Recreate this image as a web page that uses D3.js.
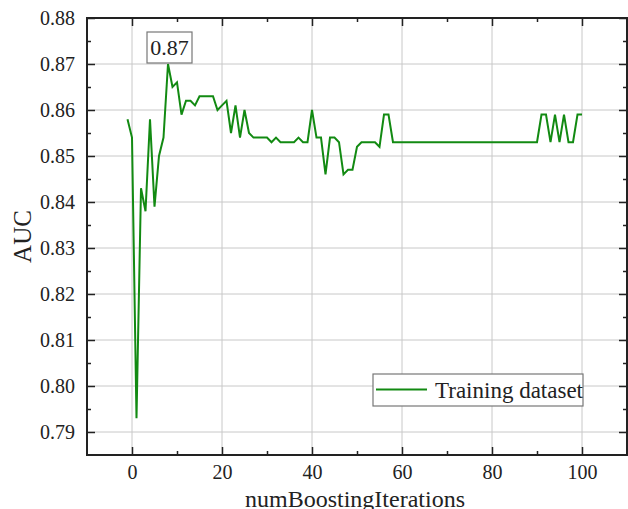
<!DOCTYPE html>
<html>
<head>
<meta charset="utf-8">
<script src="https://cdn.jsdelivr.net/npm/d3@7"></script>
<style>
  body { margin: 0; background: #fff; }
  svg text { font-family: "Liberation Serif", "Times New Roman", "DejaVu Serif", serif !important; }
</style>
</head>
<body>
<svg id="chart" width="628" height="509"></svg>
<script>
// iterations -1 .. 100
const iterations = d3.range(-1, 101);
const auc = [
  0.858, 0.854, 0.793, 0.843, 0.838, 0.858, 0.839, 0.850, 0.854, 0.870,
  0.865, 0.866, 0.859, 0.862, 0.862, 0.861, 0.863, 0.863, 0.863, 0.863,
  0.860, 0.861, 0.862, 0.855, 0.861, 0.854, 0.860, 0.855, 0.854, 0.854,
  0.854, 0.854, 0.853, 0.854, 0.853, 0.853, 0.853, 0.853, 0.854, 0.853,
  0.853, 0.860, 0.854, 0.854, 0.846, 0.854, 0.854, 0.853, 0.846, 0.847,
  0.847, 0.852, 0.853, 0.853, 0.853, 0.853, 0.852, 0.859, 0.859, 0.853,
  0.853, 0.853, 0.853, 0.853, 0.853, 0.853, 0.853, 0.853, 0.853, 0.853,
  0.853, 0.853, 0.853, 0.853, 0.853, 0.853, 0.853, 0.853, 0.853, 0.853,
  0.853, 0.853, 0.853, 0.853, 0.853, 0.853, 0.853, 0.853, 0.853, 0.853,
  0.853, 0.853, 0.859, 0.859, 0.853, 0.859, 0.853, 0.859, 0.853, 0.853,
  0.859, 0.859
];
const xTicks = [0, 20, 40, 60, 80, 100];
const yTicks = [0.79, 0.80, 0.81, 0.82, 0.83, 0.84, 0.85, 0.86, 0.87, 0.88];
const seriesName = "Training dataset";
const peakLabel = "0.87";

const serif = "'Liberation Serif', 'Times New Roman', serif";
const svg = d3.select("#chart");
const margin = { top: 18, right: 1, bottom: 54, left: 87 };
const width = 628 - margin.left - margin.right;
const height = 509 - margin.top - margin.bottom;

const x = d3.scaleLinear().domain([-10, 110]).range([0, width]);
const y = d3.scaleLinear().domain([0.785, 0.88]).range([height, 0]);

const g = svg.append("g").attr("transform", `translate(${margin.left},${margin.top})`);

// grid
g.append("g").selectAll("line").data(xTicks).enter().append("line")
  .attr("x1", d => x(d)).attr("x2", d => x(d))
  .attr("y1", 0).attr("y2", height)
  .attr("stroke", "#c8c8c8").attr("stroke-width", 1);
g.append("g").selectAll("line").data(yTicks).enter().append("line")
  .attr("x1", 0).attr("x2", width)
  .attr("y1", d => y(d)).attr("y2", d => y(d))
  .attr("stroke", "#c8c8c8").attr("stroke-width", 1);

// line
const line = d3.line().x((d, i) => x(iterations[i])).y(d => y(d));
g.append("path")
  .datum(auc)
  .attr("fill", "none")
  .attr("stroke", "#128a12")
  .attr("stroke-width", 2)
  .attr("d", line);

// axes (ticks pointing inward)
const xMinor = [10, 30, 50, 70, 90];
const yMinor = [0.795, 0.805, 0.815, 0.825, 0.835, 0.845, 0.855, 0.865, 0.875];

function styleAxis(sel) {
  sel.attr("font-family", serif);
  sel.select(".domain").remove();
  sel.selectAll(".tick line").attr("stroke", "#222").attr("stroke-width", 1.5);
  sel.selectAll(".tick text").attr("fill", "#222").style("font-size", "20px");
}

g.append("g").attr("transform", `translate(0,${height})`)
  .call(d3.axisBottom(x).tickValues(xTicks).tickSizeInner(-8).tickSizeOuter(0).tickPadding(10))
  .call(styleAxis);
g.append("g").attr("transform", `translate(0,${height})`)
  .call(d3.axisBottom(x).tickValues(xMinor).tickSize(-4).tickFormat(""))
  .call(styleAxis);
g.append("g")
  .call(d3.axisTop(x).tickValues(xTicks).tickSize(-8).tickFormat(""))
  .call(styleAxis);
g.append("g")
  .call(d3.axisTop(x).tickValues(xMinor).tickSize(-4).tickFormat(""))
  .call(styleAxis);

g.append("g")
  .call(d3.axisLeft(y).tickValues(yTicks).tickSizeInner(-8).tickSizeOuter(0).tickPadding(12)
    .tickFormat(d3.format(".2f")))
  .call(styleAxis);
g.append("g")
  .call(d3.axisLeft(y).tickValues(yMinor).tickSize(-4).tickFormat(""))
  .call(styleAxis);
g.append("g").attr("transform", `translate(${width},0)`)
  .call(d3.axisRight(y).tickValues(yTicks).tickSize(-8).tickFormat(""))
  .call(styleAxis);
g.append("g").attr("transform", `translate(${width},0)`)
  .call(d3.axisRight(y).tickValues(yMinor).tickSize(-4).tickFormat(""))
  .call(styleAxis);

// frame
g.append("rect")
  .attr("x", 0).attr("y", 0).attr("width", width).attr("height", height)
  .attr("fill", "none").attr("stroke", "#222").attr("stroke-width", 2);

// peak annotation
const peakIdx = auc.indexOf(d3.max(auc));
const px = x(iterations[peakIdx]), py = y(auc[peakIdx]);
g.append("rect")
  .attr("x", px - 21).attr("y", py - 32).attr("width", 45).attr("height", 31)
  .attr("fill", "#fff").attr("stroke", "#777").attr("stroke-width", 1.2);
g.append("text")
  .attr("x", px + 1.5).attr("y", py - 9)
  .attr("text-anchor", "middle")
  .attr("font-family", serif)
  .style("font-size", "22px").attr("fill", "#222")
  .text(peakLabel);

// legend
const lg = g.append("g").attr("transform", `translate(${width - 254},${height - 81})`);
lg.append("rect").attr("width", 210).attr("height", 32)
  .attr("fill", "#fff").attr("stroke", "#777").attr("stroke-width", 1.2);
lg.append("line").attr("x1", 3).attr("x2", 54).attr("y1", 15.5).attr("y2", 15.5)
  .attr("stroke", "#128a12").attr("stroke-width", 2);
lg.append("text").attr("x", 62).attr("y", 24)
  .attr("font-family", serif)
  .style("font-size", "23px").attr("fill", "#222")
  .text(seriesName);

// axis titles
svg.append("text")
  .attr("transform", `translate(31,${margin.top + height / 2}) rotate(-90)`)
  .attr("text-anchor", "middle")
  .attr("font-family", serif)
  .style("font-size", "25px").attr("fill", "#222")
  .text("AUC");
svg.append("text")
  .attr("x", margin.left + width / 2 - 2).attr("y", 507)
  .attr("text-anchor", "middle")
  .attr("font-family", serif)
  .style("font-size", "24px").attr("fill", "#222")
  .text("numBoostingIterations");
</script>
</body>
</html>
